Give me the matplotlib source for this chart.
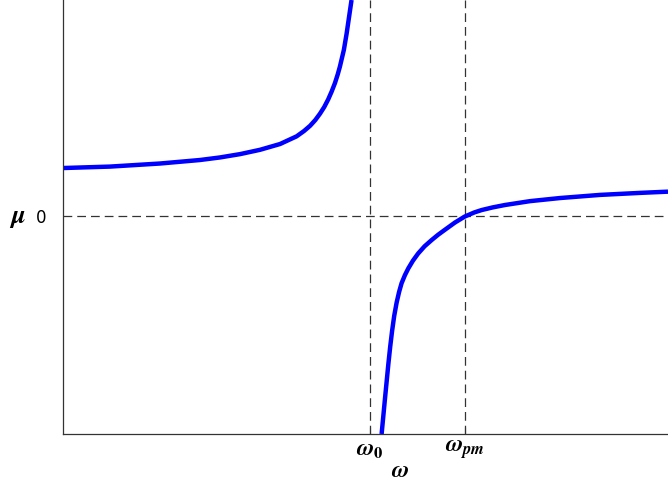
import matplotlib
matplotlib.use("Agg")
import matplotlib.pyplot as plt

plt.rcParams['mathtext.fontset'] = 'custom'
plt.rcParams['mathtext.it'] = 'STIXGeneral:italic:bold'
plt.rcParams['mathtext.rm'] = 'STIXGeneral:bold'

# characteristic frequencies (omega_0 = 1)
w0 = 1.0
wpm = 1.309

# branch below resonance
w_low = [0.0, 0.153, 0.316, 0.446, 0.511, 0.577, 0.642, 0.707, 0.761, 0.785,
         0.805, 0.822, 0.837, 0.851, 0.864, 0.875, 0.886, 0.895, 0.902, 0.915,
         0.924, 0.932, 0.940]
mu_low = [1.0, 1.03, 1.094, 1.167, 1.22, 1.29, 1.38, 1.50, 1.66, 1.77,
          1.88, 2.0, 2.13, 2.27, 2.43, 2.59, 2.77, 2.95, 3.11, 3.46,
          3.8, 4.15, 4.5]

# branch above resonance
w_high = [1.038, 1.049, 1.060, 1.066, 1.072, 1.079, 1.087, 1.095, 1.103, 1.114,
          1.125, 1.140, 1.157, 1.178, 1.201, 1.222, 1.244, 1.277, 1.309, 1.340,
          1.364, 1.400, 1.440, 1.521, 1.619, 1.749, 1.879, 1.971]
mu_high = [-4.54, -3.80, -3.08, -2.72, -2.40, -2.08, -1.80, -1.58, -1.40, -1.23,
           -1.09, -0.93, -0.78, -0.63, -0.50, -0.39, -0.287, -0.135, -0.01, 0.075,
           0.125, 0.18, 0.23, 0.31, 0.375, 0.44, 0.482, 0.508]

fig = plt.figure(figsize=(6.68, 4.88), dpi=100)
ax = fig.add_axes([63/668, 54/488, 605/668, 434/488])

dash = dict(color='#333333', lw=0.9, ls=(0, (7, 4)))
ax.axhline(0, **dash)
ax.axvline(w0, **dash)
ax.axvline(wpm, **dash)

line_kw = dict(color='#0000ff', lw=3.2, solid_capstyle='butt', solid_joinstyle='round')
ax.plot(w_low, mu_low, **line_kw)
ax.plot(w_high, mu_high, **line_kw)

ax.set_xlim(0, 1.971)
ax.set_ylim(-4.54, 4.5)

for s in ['top', 'right']:
    ax.spines[s].set_visible(False)
for s in ['left', 'bottom']:
    ax.spines[s].set_color('#333333')
    ax.spines[s].set_linewidth(0.9)

ax.set_xticks([w0, wpm])
ax.set_xticklabels([r'$\omega_0$', r'$\omega_{pm}$'], fontsize=17)
ax.set_yticks([0])
ax.set_yticklabels(['0'], fontsize=12)
ax.tick_params(axis='x', direction='in', length=5, width=0.8, pad=2, color='#333333')
ax.tick_params(axis='y', direction='in', length=0, pad=12)

ax.set_xlabel(r'$\omega$', fontsize=17)
ax.xaxis.set_label_coords(0.557, -0.055)
ax.set_ylabel(r'$\mu$', fontsize=19, rotation=0, va='center')
ax.yaxis.set_label_coords(-0.075, 0.5)

fig.savefig('out.png', dpi=100)
